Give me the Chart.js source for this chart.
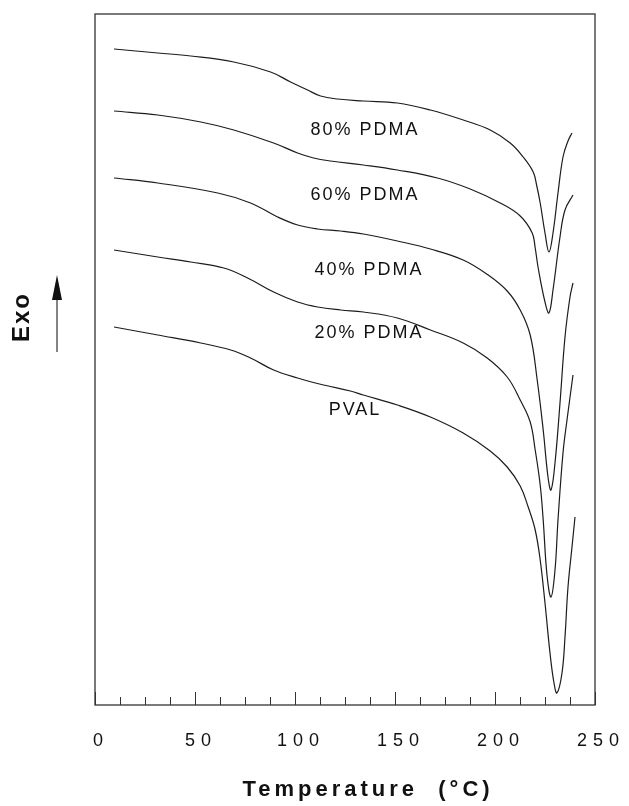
<!DOCTYPE html>
<html>
<head>
<meta charset="utf-8">
<script src="https://cdn.jsdelivr.net/npm/chart.js@4.4.1/dist/chart.umd.min.js"></script>
<style>
  html, body { margin: 0; padding: 0; background: #fff; }
  #wrap { width: 629px; height: 806px; }
</style>
</head>
<body>
<div id="wrap"><canvas id="dscChart" width="629" height="806"></canvas></div>
<script>
// DSC-Kurven, Exo nach oben (Werte in willkürlichen Einheiten)
const seriesNames = ['80% PDMA', '60% PDMA', '40% PDMA', '20% PDMA', 'PVAL'];
const tickLabels = ['0', '50', '100', '150', '200', '250'];

const pdma80T = [9.5, 31.4, 47.9, 69.4, 87.8, 97.8, 106.3, 112.8, 121.3, 134.2, 151.2, 167.7, 184.1, 197.6, 207.6, 214.1, 219.1, 220.8, 222.6, 225.0, 227.0, 229.0, 231.5, 234.0, 236.5, 238.5];
const pdma80Y = [656, 652, 649, 643, 633, 623, 615, 609, 606, 604, 602, 595, 585, 575, 562, 548, 533, 520, 502, 472, 453, 472, 512, 548, 564, 572];

const pdma60T = [9.5, 31.4, 52.9, 69.4, 89.3, 101.3, 109.3, 117.8, 134.2, 151.2, 171.2, 187.6, 202.6, 212.6, 218.6, 220.1, 221.6, 225.0, 227.0, 229.0, 232.5, 235.0, 239.0];
const pdma60Y = [594, 590, 583, 575, 562, 552, 547, 544, 540, 535, 527, 516, 502, 489, 472, 457, 437, 403, 392, 415, 468, 495, 510];

const pdma40T = [9.5, 31.4, 61.4, 77.8, 91.3, 101.3, 111.3, 122.8, 134.2, 151.2, 167.7, 184.1, 196.6, 206.1, 212.6, 217.6, 221.1, 224.1, 226.5, 228.0, 230.0, 232.5, 235.0, 237.5, 239.0];
const pdma40Y = [527, 522, 512, 502, 488, 480, 476, 474, 471, 464, 456, 445, 430, 414, 395, 370, 325, 275, 228, 215, 242, 302, 368, 408, 422];

const pdma20T = [9.5, 31.4, 47.9, 64.4, 76.3, 89.3, 101.3, 111.3, 122.8, 134.2, 151.2, 167.7, 184.1, 196.1, 206.1, 212.6, 217.6, 220.1, 222.6, 224.1, 226.0, 228.0, 230.0, 231.5, 234.0, 236.0, 239.0];
const pdma20Y = [455, 448, 443, 437, 427, 413, 403, 398, 395, 393, 387, 375, 362, 347, 328, 305, 283, 255, 220, 185, 130, 108, 135, 185, 252, 285, 330];

const pvalT = [9.5, 31.4, 52.9, 67.9, 77.8, 89.3, 101.3, 114.3, 127.7, 134.2, 151.2, 167.7, 184.1, 197.6, 206.1, 212.6, 216.6, 220.1, 222.6, 225.0, 227.5, 229.5, 231.0, 233.5, 235.0, 236.5, 238.5, 240.0];
const pvalY = [378, 370, 362, 355, 347, 335, 327, 320, 314, 310, 300, 288, 272, 254, 238, 219, 198, 175, 145, 102, 52, 22, 12, 32, 68, 118, 158, 188];

// Beschriftung der Kurven (Temperatur, Signal) - nur Lage, keine Daten
const labelAnchors = [[135, 575], [135, 510], [137, 435], [137, 372], [130, 295]];

function toPoints(xs, ys) {
    return xs.map((x, i) => ({ x: x, y: ys[i] }));
}

const curves = [
    toPoints(pdma80T, pdma80Y),
    toPoints(pdma60T, pdma60Y),
    toPoints(pdma40T, pdma40Y),
    toPoints(pdma20T, pdma20Y),
    toPoints(pvalT, pvalY)
];

const inkColor = '#1c1c1c';

const framePlugin = {
    id: 'frame',
    beforeDraw(chart) {
        chart.ctx.letterSpacing = '6px';
    },
    afterDraw(chart) {
        const ctx = chart.ctx;
        const area = chart.chartArea;
        const xs = chart.scales.x;
        const ys = chart.scales.y;

        ctx.save();
        ctx.letterSpacing = '0px';
        ctx.strokeStyle = '#333';
        ctx.lineWidth = 1.3;
        ctx.strokeRect(area.left, area.top, area.right - area.left, area.bottom - area.top);

        // Striche nach innen
        ctx.lineWidth = 1;
        xs.ticks.forEach(t => {
            const px = Math.round(xs.getPixelForValue(t.value)) + 0.5;
            const len = (t.value % 50 === 0) ? 13 : 8;
            ctx.beginPath();
            ctx.moveTo(px, area.bottom);
            ctx.lineTo(px, area.bottom - len);
            ctx.stroke();
        });

        // Achsentitel
        ctx.fillStyle = '#111';
        ctx.font = 'bold 22px "Liberation Sans", Arial, sans-serif';
        ctx.letterSpacing = '4px';
        ctx.textAlign = 'center';
        ctx.textBaseline = 'middle';
        ctx.fillText('Temperature  (°C)', (area.left + area.right) / 2 + 23, 790);

        // Exo mit Pfeil
        ctx.save();
        ctx.translate(22, 318);
        ctx.rotate(-Math.PI / 2);
        ctx.letterSpacing = '2px';
        ctx.font = 'bold 24px "Liberation Sans", Arial, sans-serif';
        ctx.fillText('Exo', 1, 0);
        ctx.restore();

        ctx.strokeStyle = '#333';
        ctx.lineWidth = 1.2;
        ctx.beginPath();
        ctx.moveTo(57, 352);
        ctx.lineTo(57, 292);
        ctx.stroke();
        ctx.fillStyle = '#111';
        ctx.beginPath();
        ctx.moveTo(57, 275);
        ctx.lineTo(62, 300);
        ctx.lineTo(52, 300);
        ctx.closePath();
        ctx.fill();

        // Kurvennamen
        ctx.font = '18px "Liberation Sans", Arial, sans-serif';
        ctx.letterSpacing = '2px';
        ctx.fillStyle = '#111';
        seriesNames.forEach((name, i) => {
            const a = labelAnchors[i];
            ctx.fillText(name, xs.getPixelForValue(a[0]), ys.getPixelForValue(a[1]));
        });
        ctx.restore();
    }
};

const datasets = curves.map((pts, i) => ({
    label: seriesNames[i],
    data: pts,
    borderColor: inkColor,
    borderWidth: 1.2,
    pointRadius: 0,
    fill: false,
    tension: 0.4
}));

new Chart(document.getElementById('dscChart'), {
    type: 'line',
    data: { datasets: datasets },
    options: {
        responsive: false,
        animation: false,
        layout: {
            padding: { left: 95, right: 34, top: 14, bottom: 0 }
        },
        plugins: {
            legend: { display: false },
            tooltip: { enabled: false }
        },
        scales: {
            x: {
                type: 'linear',
                min: 0,
                max: 250,
                grid: { display: false, drawTicks: false },
                border: { display: false },
                ticks: {
                    stepSize: 12.5,
                    autoSkip: false,
                    maxRotation: 0,
                    padding: 25,
                    labelOffset: 6,
                    color: '#111',
                    font: { size: 18, family: '"Liberation Sans", Arial, sans-serif' },
                    callback: function(value) {
                        return value % 50 === 0 ? tickLabels[value / 50] : '';
                    }
                },
                afterFit: function(scale) {
                    scale.height = 101;
                    scale.paddingLeft = 0;
                    scale.paddingRight = 0;
                }
            },
            y: {
                display: false,
                min: 0,
                max: 691
            }
        }
    },
    plugins: [framePlugin]
});
</script>
</body>
</html>
